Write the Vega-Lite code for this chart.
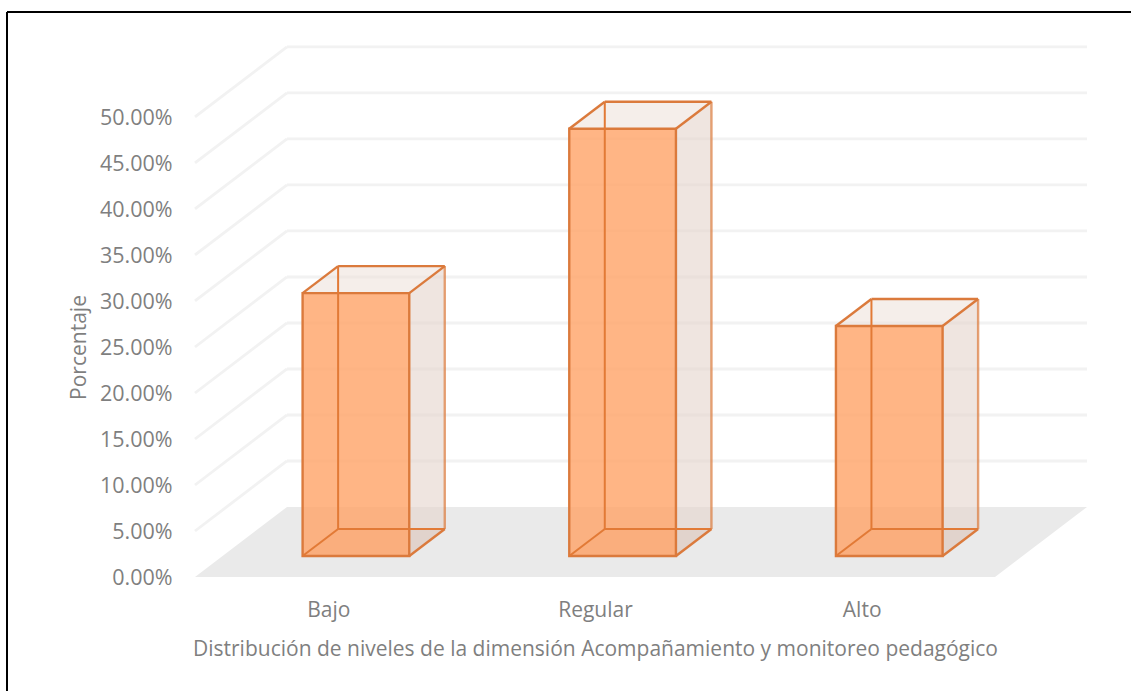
{
  "$schema": "https://vega.github.io/schema/vega-lite/v6.json",
  "width": 1124,
  "height": 679,
  "autosize": "none",
  "padding": {"left": 7, "top": 12, "right": 0, "bottom": 0},
  "background": "white",
  "view": {"stroke": null},
  "config": {"font": "Open Sans"},
  "datasets": {
    "niveles": [
      {"nivel": "Bajo", "orden": 0, "porcentaje": 0.2857},
      {"nivel": "Regular", "orden": 1, "porcentaje": 0.4643},
      {"nivel": "Alto", "orden": 2, "porcentaje": 0.25}
    ],
    "marcas": [
      {"valor": 0}, {"valor": 0.05}, {"valor": 0.1}, {"valor": 0.15}, {"valor": 0.2}, {"valor": 0.25},
      {"valor": 0.3}, {"valor": 0.35}, {"valor": 0.4}, {"valor": 0.45}, {"valor": 0.5}
    ],
    "suelo": [{"fondo": 0}, {"fondo": 1}]
  },
  "params": [
    {"name": "dx", "value": 0.345},
    {"name": "dy", "value": 0.0761},
    {"name": "cara", "value": 0.3},
    {"name": "trasera", "value": 0.686}
  ],
  "layer": [
    {
      "description": "Suelo del grafico, con los ejes",
      "data": {"name": "suelo"},
      "transform": [
        {"calculate": "datum.fondo * dy", "as": "y"},
        {"calculate": "datum.fondo * dx", "as": "xa"},
        {"calculate": "3 + datum.fondo * dx", "as": "xb"}
      ],
      "mark": {"type": "area", "orient": "horizontal", "fill": "#EAEAEA"},
      "encoding": {
        "y": {
          "field": "y", "type": "quantitative",
          "scale": {"domain": [-0.1239, 0.6141], "nice": false, "zero": false},
          "axis": {
            "values": [0, 0.05, 0.1, 0.15, 0.2, 0.25, 0.3, 0.35, 0.4, 0.45, 0.5],
            "format": ".2%", "title": "Porcentaje", "offset": -166, "domain": false, "ticks": false, "grid": false,
            "labelPadding": 1, "labelFontSize": 21.5, "labelColor": "#7F7F7F", "labelOffset": 1.5,
            "titleFontSize": 21, "titleFontWeight": "normal", "titleColor": "#7F7F7F", "titleY": 335, "titlePadding": 10
          }
        },
        "x": {
          "field": "xa", "type": "quantitative",
          "scale": {"domain": [-0.705, 3.51], "nice": false, "zero": false},
          "axis": {
            "values": [0.5, 1.5, 2.5],
            "labelExpr": "datum.value < 1 ? 'Bajo' : datum.value < 2 ? 'Regular' : 'Alto'",
            "title": "Distribución de niveles de la dimensión Acompañamiento y monitoreo pedagógico",
            "offset": -114, "domain": false, "ticks": false, "grid": false,
            "labelPadding": 22, "labelFontSize": 21, "labelColor": "#7F7F7F", "labelFlush": false,
            "titleFontSize": 21, "titleFontWeight": "normal", "titleColor": "#7F7F7F", "titleX": 588, "titleY": 61
          }
        },
        "x2": {"field": "xb"}
      }
    },
    {
      "description": "Lineas de division en la pared del fondo",
      "data": {"name": "marcas"},
      "transform": [
        {"filter": "datum.valor > 0"},
        {"calculate": "datum.valor + dy", "as": "y"},
        {"calculate": "dx", "as": "xa"},
        {"calculate": "3 + dx", "as": "xb"}
      ],
      "mark": {"type": "rule", "stroke": "#F2F2F2", "strokeWidth": 2.8},
      "encoding": {
        "x": {"field": "xa", "type": "quantitative"},
        "x2": {"field": "xb"},
        "y": {"field": "y", "type": "quantitative"}
      }
    },
    {
      "description": "Lineas de division en la pared lateral",
      "data": {"name": "marcas"},
      "transform": [
        {"filter": "datum.valor > 0"},
        {"calculate": "datum.valor + dy", "as": "y2"},
        {"calculate": "0", "as": "xa"},
        {"calculate": "dx", "as": "xb"}
      ],
      "mark": {"type": "rule", "stroke": "#F2F2F2", "strokeWidth": 2.8},
      "encoding": {
        "x": {"field": "xa", "type": "quantitative"},
        "x2": {"field": "xb"},
        "y": {"field": "valor", "type": "quantitative"},
        "y2": {"field": "y2"}
      }
    },
    {
      "description": "Caras lateral, superior e inferior de cada barra",
      "data": {"name": "niveles"},
      "transform": [
        {"calculate": "datum.orden + 0.3 + cara * dx", "as": "xa"},
        {"calculate": "datum.xa + 0.4", "as": "xb"},
        {"calculate": "(trasera - cara) * dx", "as": "px"},
        {"calculate": "(trasera - cara) * dy", "as": "py"},
        {"calculate": "cara * dy", "as": "y0"},
        {"calculate": "datum.y0 + datum.porcentaje", "as": "y1"},
        {"calculate": "[0, 1]", "as": "t"},
        {"flatten": ["t"]},
        {"calculate": "datum.xb + datum.t * datum.px", "as": "xSide"},
        {"calculate": "datum.y0 + datum.t * datum.py", "as": "ySideLow"},
        {"calculate": "datum.y1 + datum.t * datum.py", "as": "ySideTop"},
        {"calculate": "datum.xa + datum.t * datum.px", "as": "xTopA"},
        {"calculate": "datum.xb + datum.t * datum.px", "as": "xTopB"}
      ],
      "layer": [
        {
          "mark": {"type": "area", "fill": "#E5D3CB", "fillOpacity": 0.6},
          "encoding": {
            "detail": {"field": "nivel", "type": "nominal"},
            "x": {"field": "xSide", "type": "quantitative"},
            "y": {"field": "ySideTop", "type": "quantitative"},
            "y2": {"field": "ySideLow"}
          }
        },
        {
          "mark": {"type": "area", "orient": "horizontal", "fill": "#EDE0D8", "fillOpacity": 0.55},
          "encoding": {
            "detail": {"field": "nivel", "type": "nominal"},
            "y": {"field": "ySideTop", "type": "quantitative"},
            "x": {"field": "xTopA", "type": "quantitative"},
            "x2": {"field": "xTopB"}
          }
        },
        {
          "mark": {"type": "area", "orient": "horizontal", "fill": "#D9C6BC", "fillOpacity": 0.4},
          "encoding": {
            "detail": {"field": "nivel", "type": "nominal"},
            "y": {"field": "ySideLow", "type": "quantitative"},
            "x": {"field": "xTopA", "type": "quantitative"},
            "x2": {"field": "xTopB"}
          }
        }
      ]
    },
    {
      "description": "Frente de cada barra y sus aristas",
      "data": {"name": "niveles"},
      "transform": [
        {"calculate": "datum.orden + 0.3 + cara * dx", "as": "xa"},
        {"calculate": "datum.xa + 0.4", "as": "xb"},
        {"calculate": "(trasera - cara) * dx", "as": "px"},
        {"calculate": "(trasera - cara) * dy", "as": "py"},
        {"calculate": "datum.xa + datum.px", "as": "xa2"},
        {"calculate": "datum.xb + datum.px", "as": "xb2"},
        {"calculate": "cara * dy", "as": "y0"},
        {"calculate": "datum.y0 + datum.porcentaje", "as": "y1"},
        {"calculate": "datum.y0 + datum.py", "as": "y02"},
        {"calculate": "datum.y1 + datum.py", "as": "y12"}
      ],
      "layer": [
        {
          "mark": {"type": "rect", "fill": "#FFA366", "fillOpacity": 0.8, "stroke": "#DB7A3C", "strokeWidth": 2.4},
          "encoding": {
            "x": {"field": "xa", "type": "quantitative"}, "x2": {"field": "xb"},
            "y": {"field": "y0", "type": "quantitative"}, "y2": {"field": "y1"}
          }
        },
        {
          "mark": {"type": "rule", "stroke": "#E27A36", "strokeWidth": 2},
          "encoding": {"x": {"field": "xa2", "type": "quantitative"}, "y": {"field": "y02", "type": "quantitative"}, "y2": {"field": "y12"}}
        },
        {
          "mark": {"type": "rule", "stroke": "#E27A36", "strokeWidth": 2},
          "encoding": {"x": {"field": "xa2", "type": "quantitative"}, "x2": {"field": "xb2"}, "y": {"field": "y02", "type": "quantitative"}}
        },
        {
          "mark": {"type": "rule", "stroke": "#E27A36", "strokeWidth": 2},
          "encoding": {"x": {"field": "xa", "type": "quantitative"}, "x2": {"field": "xa2"}, "y": {"field": "y0", "type": "quantitative"}, "y2": {"field": "y02"}}
        },
        {
          "mark": {"type": "rule", "stroke": "#DB7A3C", "strokeWidth": 2.4},
          "encoding": {"x": {"field": "xb", "type": "quantitative"}, "x2": {"field": "xb2"}, "y": {"field": "y0", "type": "quantitative"}, "y2": {"field": "y02"}}
        },
        {
          "mark": {"type": "rule", "stroke": "#DB7A3C", "strokeWidth": 2.4},
          "encoding": {"x": {"field": "xa", "type": "quantitative"}, "x2": {"field": "xa2"}, "y": {"field": "y1", "type": "quantitative"}, "y2": {"field": "y12"}}
        },
        {
          "mark": {"type": "rule", "stroke": "#DB7A3C", "strokeWidth": 2.4},
          "encoding": {"x": {"field": "xb", "type": "quantitative"}, "x2": {"field": "xb2"}, "y": {"field": "y1", "type": "quantitative"}, "y2": {"field": "y12"}}
        },
        {
          "mark": {"type": "rule", "stroke": "#DB7A3C", "strokeWidth": 2.4},
          "encoding": {"x": {"field": "xa2", "type": "quantitative"}, "x2": {"field": "xb2"}, "y": {"field": "y12", "type": "quantitative"}}
        },
        {
          "mark": {"type": "rule", "stroke": "#DB7A3C", "strokeWidth": 2.4, "opacity": 0.7},
          "encoding": {"x": {"field": "xb2", "type": "quantitative"}, "y": {"field": "y02", "type": "quantitative"}, "y2": {"field": "y12"}}
        }
      ]
    },
    {
      "description": "Marco izquierdo",
      "data": {"values": [{"x": -0.705}]},
      "mark": {"type": "rule", "stroke": "black", "strokeWidth": 2},
      "encoding": {"x": {"field": "x", "type": "quantitative"}}
    },
    {
      "description": "Marco superior",
      "data": {"values": [{"y": 0.6141}]},
      "mark": {"type": "rule", "stroke": "black", "strokeWidth": 2},
      "encoding": {"y": {"field": "y", "type": "quantitative"}}
    }
  ]
}
